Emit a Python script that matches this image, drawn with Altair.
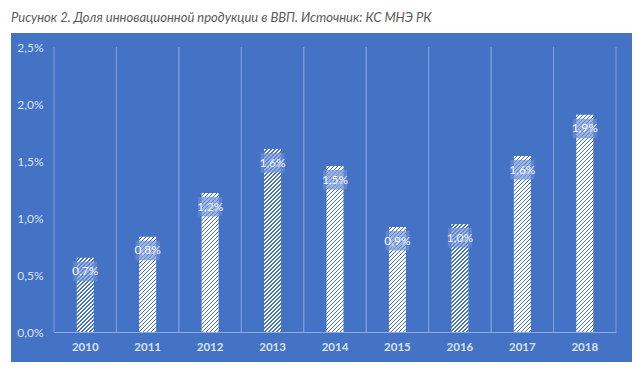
import altair as alt
import pandas as pd

# ---- data ----
years = ["2010", "2011", "2012", "2013", "2014", "2015", "2016", "2017", "2018"]
values = [0.652, 0.836, 1.22, 1.605, 1.456, 0.921, 0.947, 1.544, 1.906]  # % of GDP (bar heights)
labels = ["0,7%", "0,8%", "1,2%", "1,6%", "1,5%", "0,9%", "1,0%", "1,6%", "1,9%"]
y_ticks = [0, 0.5, 1.0, 1.5, 2.0, 2.5]
title_text = "Рисунок 2. Доля инновационной продукции в ВВП. Источник: КС МНЭ РК"

df = pd.DataFrame({"year": years, "v": values, "label": labels})
one = pd.DataFrame({"a": [0]})

# ---- styling ----
W, H = 562, 285
YMAX = 2.5
BAR_W = 17
BLUE = "#4472C4"
GRID = "#7E9DD8"
LABEL_C = "#D9E2F3"
FONT = "Lato"


def hatch(h, w=BAR_W, period=4.0, white=2.5):
    """Diagonal '////' stripes as a linear gradient in bounding-box units."""
    L = w + h
    s = w * L / (w * w + h * h)
    stops = []
    pos = 0.0
    while pos < L:
        a = pos / L
        b = min((pos + white) / L, 1.0)
        c = min((pos + period) / L, 1.0)
        stops += [
            alt.GradientStop(offset=a, color="white"),
            alt.GradientStop(offset=b, color="white"),
            alt.GradientStop(offset=b, color=BLUE),
            alt.GradientStop(offset=c, color=BLUE),
        ]
        pos += period
    return alt.LinearGradient(gradient="linear", x1=0, y1=0, x2=s, y2=s * h / w, stops=stops)


xscale = alt.Scale(domain=years, paddingInner=0, paddingOuter=0)
xaxis = alt.Axis(
    title=None, labelAngle=0, domainColor="#8FAADC", domainWidth=1, ticks=False, tickSize=0,
    grid=False, labelColor=LABEL_C, labelFontWeight="bold", labelFontSize=11.5, labelFont=FONT,
    labelPadding=9, zindex=1,
)
yscale = alt.Scale(domain=[0, YMAX], nice=False)
yaxis = alt.Axis(
    title=None, values=y_ticks, domain=False, ticks=False, tickSize=0, grid=False,
    labelExpr="replace(format(datum.value, '.1f'), '.', ',') + '%'",
    labelColor=LABEL_C, labelFontSize=12, labelFont=FONT, labelPadding=11, zindex=1,
)

X = alt.X("year:N", scale=xscale, axis=xaxis)
Y = alt.Y("v:Q", scale=yscale, axis=yaxis)

bg = alt.Chart(one).mark_rect(color=BLUE, clip=False).encode(
    x=alt.value(-43), x2=alt.value(578), y=alt.value(-14), y2=alt.value(315)
)

grid_left = alt.Chart(df).mark_rule(color=GRID, strokeWidth=1).encode(
    x=alt.X("year:N", scale=xscale, axis=xaxis, bandPosition=0),
    y=alt.value(0), y2=alt.value(H),
)
grid_right = alt.Chart(df).mark_rule(color=GRID, strokeWidth=1).encode(
    x=alt.X("year:N", scale=xscale, axis=xaxis, bandPosition=1),
    y=alt.value(0), y2=alt.value(H),
)

bars = []
for yr, v in zip(years, values):
    h = v / YMAX * H
    bars.append(
        alt.Chart(df)
        .transform_filter(alt.datum.year == yr)
        .mark_bar(size=BAR_W, color=hatch(h))
        .encode(x=X, y=Y)
    )

box = alt.Chart(df).mark_bar(size=24, color="#6B8FD4", opacity=0.68, yOffset=4, y2Offset=23.5).encode(
    x=X, y=Y, y2=alt.Y2("v")
)

text = alt.Chart(df).mark_text(
    color="#F4F7FC", fontSize=12, font=FONT, baseline="middle", dy=13.75
).encode(x=X, y=Y, text="label:N")

title = alt.Chart(one).mark_text(
    text=title_text, align="left", baseline="top", fontStyle="italic",
    color="#595959", fontSize=13, font=FONT,
).encode(x=alt.value(-43), y=alt.value(-35))

chart = (
    alt.layer(bg, grid_left, grid_right, *bars, box, text, title)
    .properties(
        width=W, height=H,
        autosize=alt.AutoSizeParams(type="none"),
        padding={"left": 46, "top": 39, "right": 18, "bottom": 31},
        background="white",
    )
    .configure_view(stroke=None)
)

chart.save("out.html", embed_options={"renderer": "svg", "actions": False})
